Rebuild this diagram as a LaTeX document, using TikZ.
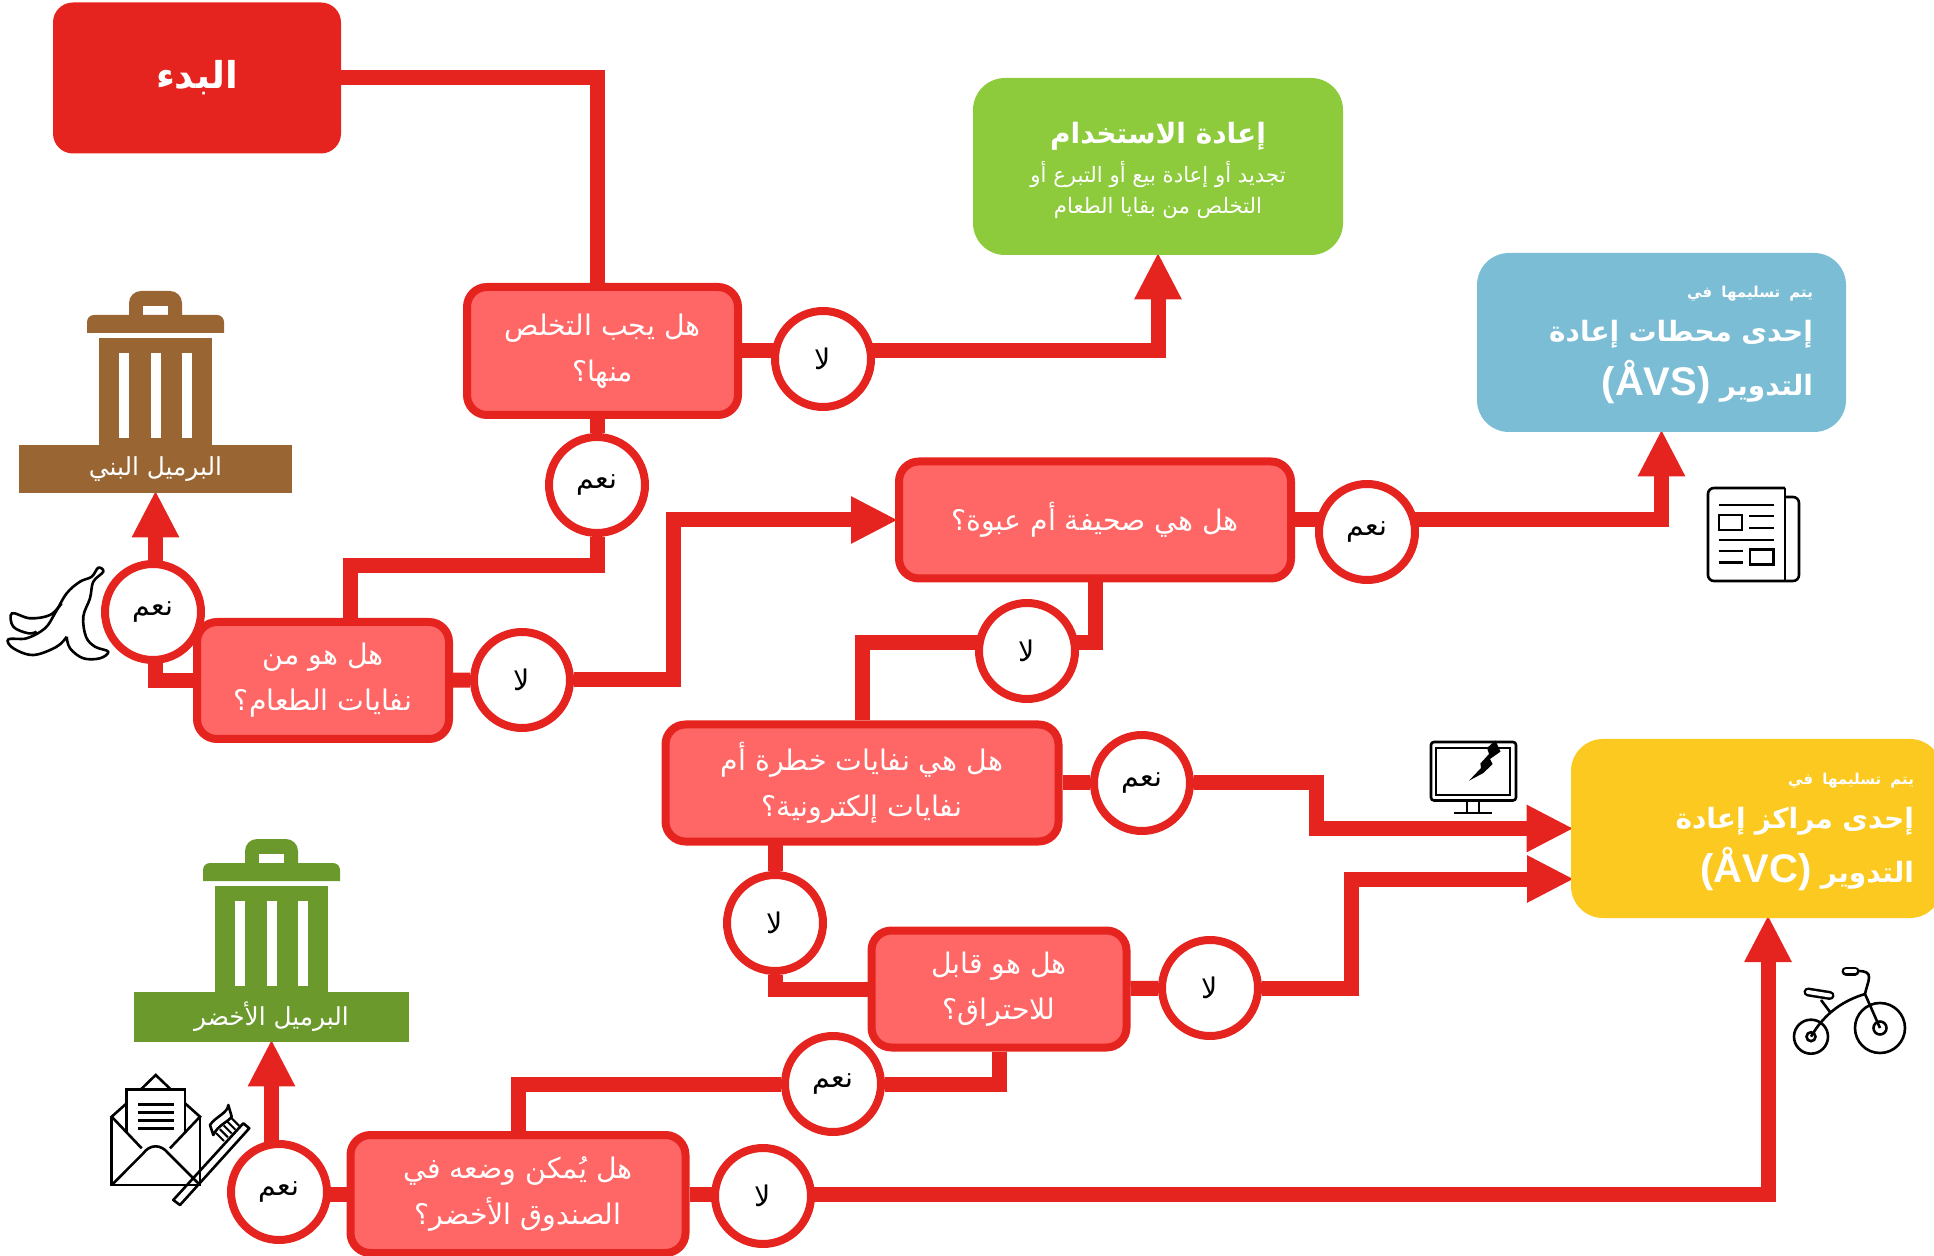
\documentclass[tikz,border=0pt]{standalone}
\usepackage{fontspec}
\usetikzlibrary{arrows.meta,backgrounds,shapes.geometric}
\TeXXeTstate=1
\newfontfamily\arabicfont[Script=Arabic]{DejaVu Sans}
\newfontfamily\latinfont{Liberation Sans}
\newcommand{\rtl}[1]{\beginR #1\endR}
\newcommand{\ltr}[1]{\beginL{\latinfont\fontsize{20}{20}\selectfont #1}\endL}
\definecolor{wirered}{HTML}{E6241F}
\definecolor{boxred}{HTML}{FF6666}
\definecolor{binbrown}{HTML}{996633}
\definecolor{bingreen}{HTML}{6B992C}
\definecolor{reusegreen}{HTML}{8DCB3D}
\definecolor{avsblue}{HTML}{7ABDD4}
\definecolor{avcyellow}{HTML}{FBC91F}
\tikzset{
  wire/.style={draw=wirered,line width=7.5pt},
  wirearrow/.style={wire,shorten >=-1.5pt,-{Triangle[width=22pt,length=23.5pt]}},
  question/.style={draw=wirered,line width=4pt,fill=boxred,text=white,rounded corners=10pt,
    align=center,inner sep=0pt,minimum height=58.5pt,font=\arabicfont\fontsize{14.2}{23}\selectfont},
  answer/.style={circle,draw=wirered,line width=4pt,fill=white,text=black,inner sep=0pt,
    minimum size=48pt,font=\arabicfont\fontsize{14.2}{15}\selectfont},
  goal/.style={rounded corners=16pt,inner sep=0pt},
  goaltext/.style={text=white,inner sep=0pt,align=right,font=\arabicfont\bfseries\fontsize{14}{27}\selectfont},
  binlabel/.style={text=white,inner sep=0pt,font=\arabicfont\fontsize{12.4}{13}\selectfont},
  icon/.style={draw=black,line width=1.3pt},
}
\newcommand{\trashbin}[3]{%
  \begin{scope}[shift={(#1,#2)}]
    \fill[#3] (-26.5,32) [rounded corners=6pt] -- (-26.5,0) -- (26.5,0) [sharp corners] -- (26.5,32) -- cycle;
    \fill[white] (-12.5,15) rectangle (12.5,24);
    \fill[#3] (-68.5,42) [rounded corners=3.5pt] -- (-68.5,24) -- (68.5,24) [sharp corners] -- (68.5,42) -- cycle;
    \fill[#3] (-56.5,47) rectangle (56.5,156);
    \foreach \slotx in {-31.5,0,31.5}
      \fill[white] (\slotx-5,62) rectangle (\slotx+5,147);
  \end{scope}}
\begin{document}
\begin{tikzpicture}[x=0.5pt,y=-0.5pt]
  \useasboundingbox (0,0) rectangle (1934,1256);
  % end boxes
  \node[goal,fill=wirered,rounded corners=10pt,minimum width=144pt,minimum height=75.5pt,text=white,
    font=\arabicfont\bfseries\fontsize{18.5}{20}\selectfont] (start) at (197,78) {\raisebox{-1.2pt}{\rtl{البدء}}};
  \node[goal,fill=reusegreen,minimum width=185pt,minimum height=88.5pt] (reuse) at (1158,166.5) {};
  \node[goaltext,align=center,font=\arabicfont\fontsize{10.6}{15.5}\selectfont] (reusetext) at (1158,170)
    {{\bfseries\fontsize{14}{20}\selectfont\rtl{إعادة الاستخدام}}\\[4pt]\rtl{تجديد أو إعادة بيع أو التبرع أو}\\\rtl{التخلص من بقايا الطعام}};
  \node[goal,fill=avsblue,minimum width=184.5pt,minimum height=89.5pt] (avs) at (1661.5,342.5) {};
  \node[goaltext,text width=151.5pt] (avstext) at (1661.5,345)
    {{\fontsize{7.5}{12}\selectfont\rtl{يتم تسليمها في}}\\[-5pt]\rtl{إحدى محطات إعادة}\\\rtl{التدوير \ltr{(ÅVS)}}};
  \node[goal,fill=avcyellow,minimum width=185.5pt,minimum height=89.5pt] (avc) at (1756.5,828.5) {};
  \node[goaltext,text width=157.5pt] (avctext) at (1756.5,832)
    {{\fontsize{7.5}{12}\selectfont\rtl{يتم تسليمها في}}\\[-5pt]\rtl{إحدى مراكز إعادة}\\\rtl{التدوير \ltr{(ÅVC)}}};
  \coordinate (avcin) at (1571,879);
  \coordinate (avcbot) at (1768,918);
  % questions
  \node[question,minimum width=135.5pt,minimum height=64pt] (dispose) at (602.5,351) {\rtl{هل يجب التخلص}\\\rtl{منها؟}};
  \node[question,minimum width=126pt] (food) at (323,680.5) {\rtl{هل هو من}\\\rtl{نفايات الطعام؟}};
  \node[question,minimum width=196pt] (paper) at (1095,520) {\rtl{هل هي صحيفة أم عبوة؟}};
  \node[question,minimum width=196.5pt] (hazard) at (862,783) {\rtl{هل هي نفايات خطرة أم}\\\rtl{نفايات إلكترونية؟}};
  \node[question,minimum width=127.5pt] (burn) at (999,989) {\rtl{هل هو قابل}\\\rtl{للاحتراق؟}};
  \node[question,minimum width=167.5pt,minimum height=59pt] (compost) at (518,1194) {\rtl{هل يُمكن وضعه في}\\\rtl{الصندوق الأخضر؟}};
  % answers
  \node[answer] (disposeno) at (823,359) {\rtl{لا}};
  \node[answer] (disposeyes) at (597,485) {\rtl{نعم}};
  \node[answer] (foodyes) at (153,612) {\rtl{نعم}};
  \node[answer] (foodno) at (522,680) {\rtl{لا}};
  \node[answer] (paperyes) at (1367,532) {\rtl{نعم}};
  \node[answer] (paperno) at (1027,651) {\rtl{لا}};
  \node[answer] (hazardyes) at (1142,783) {\rtl{نعم}};
  \node[answer] (hazardno) at (775,923) {\rtl{لا}};
  \node[answer] (burnno) at (1210,988) {\rtl{لا}};
  \node[answer] (burnyes) at (833,1084) {\rtl{نعم}};
  \node[answer] (compostyes) at (279,1192) {\rtl{نعم}};
  \node[answer] (compostno) at (763,1196) {\rtl{لا}};
  % bins
  \trashbin{155.5}{291}{binbrown}
  \trashbin{271.5}{839}{bingreen}
  \node[binlabel,fill=binbrown,minimum width=136.5pt,minimum height=24pt] (brownbin) at (155.5,469) {\rtl{البرميل البني}};
  \node[binlabel,fill=bingreen,minimum width=137.5pt,minimum height=25pt] (greenbin) at (271.5,1017) {\rtl{البرميل الأخضر}};
  % connectors
  \begin{scope}[on background layer]
    \draw[wire] (start.east) -| (disposeyes);
    \draw[wire] (dispose) -- (dispose -| disposeno);
    \draw[wirearrow] (dispose -| disposeno) -| (reuse.south);
    \draw[wire] (disposeyes) |- (350,566) -- (food.north -| 350,0);
    \draw[wire] (food) -- (foodno);
    \draw[wirearrow] (food) -| (brownbin.south);
    \draw[wirearrow] (foodno) -- (673,680) |- (paper.west);
    \draw[wire] (paper) -- (paper -| paperyes);
    \draw[wirearrow] (paper -| paperyes) -| (avs.south);
    \draw[wire] (paper) |- (862,643) -- (hazard);
    \draw[wire] (hazard) -- (hazardyes);
    \draw[wirearrow] (hazardyes) -- (1316,783) |- (avc.west);
    \draw[wire] (hazard -| hazardno) -- (hazardno) |- (burn);
    \draw[wire] (burn) -- (burnno);
    \draw[wirearrow] (burnno) -- (1351,988) |- (avcin);
    \draw[wire] (burn) |- (burnyes) -| (compost);
    \draw[wire] (compost) -- (compost -| compostno);
    \draw[wirearrow] (compost -| compostno) -| (avcbot);
    \draw[wirearrow] (compost) -| (greenbin.south);
  \end{scope}
  % banana
  \draw[icon,line join=round] plot[smooth,tension=0.6] coordinates {(66.7,636.7) (56.7,646.7) (33.3,655) (13.3,648.3) (8.3,639.3) (26.7,638.3) (45,628.3) (55,613.3) (66.7,593.3) (80,581.7) (91.7,576.7) (98.3,567.7) (103.3,571.7) (93.3,581.7) (90,598.3) (83.3,616.7) (86,636.7) (95,646.7) (108.3,651.7) (100,658.3) (83.3,658.3) (70,648.3) (66.7,636.7)};
  \draw[icon] plot[smooth,tension=0.6] coordinates {(61.7,603.3) (50,615) (30,618.3) (12,613.3) (13.3,626.7) (28.3,633.3) (36.7,631.7)};
  % newspaper
  \draw[icon,rounded corners=3pt] (1785,488) -- (1708,488) -- (1708,581) -- (1799,581) -- (1799,497) -- (1785,497);
  \draw[icon,rounded corners=3pt] (1785,488) -- (1785,581);
  \draw[icon] (1719,515) rectangle (1742,530);
  \draw[icon] (1750,549.5) rectangle (1773.5,564.5);
  \draw[icon] (1718.5,505) -- (1773.5,505);
  \draw[icon] (1749,516) -- (1773.5,516);
  \draw[icon] (1749,528) -- (1773.5,528);
  \draw[icon] (1718.5,540) -- (1773.5,540);
  \draw[icon] (1718.5,551) -- (1743,551);
  \draw[icon] (1718.5,562.5) -- (1743,562.5);
  % monitor
  \draw[icon,rounded corners=1.5pt] (1431,742) rectangle (1516,800.5);
  \draw[icon] (1436,748) rectangle (1510,795);
  \draw[icon] (1467,800.5) -- (1467,813);
  \draw[icon] (1479,800.5) -- (1479,813);
  \draw[icon] (1454,813) -- (1492,813);
  \fill[black] (1495.4,740.5) -- (1500.5,751.6) -- (1490,759) -- (1492.6,764) -- (1483.4,773) -- (1469,780.7) -- (1481,768) -- (1480.4,763.5) -- (1489,754) -- (1487,748) -- cycle;
  % tricycle
  \draw[icon] (1811,1036.7) circle (17);
  \draw[icon] (1811,1036.7) circle (4.5);
  \draw[icon] (1880,1028) circle (25);
  \draw[icon] (1880,1028) circle (6.5);
  \draw[icon] (1811,1036.7) .. controls (1825,1012) and (1845,1000) .. (1865,994);
  \draw[icon] (1880,1028) -- (1865,994) .. controls (1868,980) and (1875,971) .. (1858,971);
  \draw[black,line width=4.5pt,line cap=round] (1846,971) -- (1855,971);
  \draw[white,line width=2pt,line cap=round] (1846,971) -- (1855,971);
  \draw[black,line width=4.5pt,line cap=round] (1808,992) -- (1830,995.5);
  \draw[white,line width=2pt,line cap=round] (1808,992) -- (1830,995.5);
  \draw[icon] (1821,1000) -- (1830,1012);
  % envelope and toothbrush
  \draw[icon,fill=white] (126.7,1133.3) -- (126.7,1089.3) -- (185,1089.3) -- (185,1133.3);
  \draw[icon] (141,1089.3) -- (155.7,1075) -- (170.7,1089.3);
  \draw[icon] (126.7,1103.3) -- (111.7,1116.7) -- (141.7,1148.3);
  \draw[icon] (185,1103.3) -- (200,1116.7) -- (170,1148.3);
  \draw[icon] (111.7,1116.7) -- (111.7,1185) -- (200,1185) -- (200,1116.7);
  \draw[icon] (111.7,1185) -- (143.3,1153.3) .. controls (150,1144) and (161,1144) .. (168.3,1153.3) -- (200,1185);
  \foreach \liney in {1104.3,1112.3,1120.3,1128.3}
    \draw[icon] (138.3,\liney) -- (174,\liney);
  \draw[icon,line join=round] (243.3,1123.3) -- (249.3,1128.3) -- (180,1205) -- (173.3,1200) -- cycle;
  \draw[icon,line join=round] (228.3,1105) .. controls (228,1113) and (215,1117) .. (210,1125) -- (213.3,1135) .. controls (218,1125) and (228,1122) .. (231.7,1116.7) -- cycle;
  \foreach \bristle in {0,1,2,3,4}
    \draw[icon,line width=1pt] (216+3.8*\bristle,1133-3.8*\bristle) -- (224+3.8*\bristle,1141-3.8*\bristle);
\end{tikzpicture}
\end{document}
